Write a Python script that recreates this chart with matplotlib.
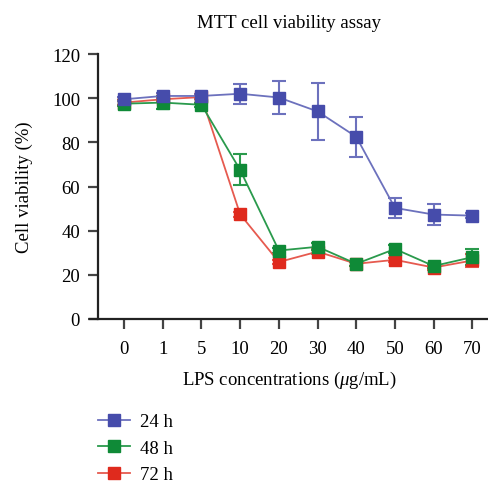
import matplotlib
matplotlib.use("Agg")
import matplotlib.pyplot as plt

plt.rcParams['font.family'] = ['Liberation Serif', 'DejaVu Serif']
plt.rcParams['mathtext.fontset'] = 'custom'
plt.rcParams['mathtext.rm'] = 'Liberation Serif'
plt.rcParams['mathtext.it'] = 'Liberation Serif:italic'

# data
concentrations = ["0", "1", "5", "10", "20", "30", "40", "50", "60", "70"]
h24 = [99.5, 101.0, 101.0, 102.0, 100.3, 94.0, 82.5, 50.3, 47.3, 46.8]
h24_err = [1.0, 1.5, 1.0, 4.5, 7.5, 13.0, 9.0, 4.5, 4.7, 1.0]
h48 = [97.5, 98.0, 97.0, 67.5, 31.0, 32.7, 25.0, 31.7, 24.0, 28.0]
h48_err = [1.0, 3.0, 1.0, 7.0, 1.0, 1.5, 1.0, 2.0, 1.0, 3.5]
h72 = [98.0, 99.5, 100.5, 47.4, 25.8, 30.5, 25.0, 26.8, 23.3, 26.5]
h72_err = [1.0, 1.0, 1.0, 1.0, 1.0, 1.0, 1.0, 1.0, 1.0, 3.0]

series = [
    ("24 h", h24, h24_err, "#464cab", "#6c71bd"),
    ("48 h", h48, h48_err, "#0f8a37", "#2a9a4c"),
    ("72 h", h72, h72_err, "#df2a1d", "#e65a4f"),
]

fs = 13.5

fig = plt.figure(figsize=(4.89, 4.85), dpi=100)
ax = fig.add_axes([90 / 489, 1 - 320 / 485, 399 / 489, 265 / 485])

x = list(range(len(concentrations)))
handles = []
for label, vals, err, mcol, lcol in reversed(series):
    ax.errorbar(x, vals, yerr=err, fmt="none", ecolor=lcol, elinewidth=1.5,
                capsize=5, capthick=1.5, clip_on=False, zorder=2)
    h, = ax.plot(x, vals, color=lcol, lw=1.3, marker="s", markersize=9,
                 markerfacecolor=mcol, markeredgecolor=mcol, label=label,
                 clip_on=False, zorder=3)
    handles.append(h)
handles = handles[::-1]

ax.set_xlim(-0.88, 9.43)
ax.set_ylim(0, 120)
ax.set_xticks(x)
ax.set_xticklabels(concentrations)
ax.set_yticks(range(0, 121, 20))

ax.spines['top'].set_visible(False)
ax.spines['right'].set_visible(False)
ax.spines['left'].set_position(('data', -0.67))
for s in ['left', 'bottom']:
    ax.spines[s].set_linewidth(1.6)
    ax.spines[s].set_color("#222222")
ax.tick_params(axis='both', direction='out', length=7, width=1.6,
               color="#444444", labelsize=fs, pad=6)
ax.tick_params(axis='x', pad=8)

ax.set_title("MTT cell viability assay", fontsize=fs, pad=19.5)
ax.set_ylabel("Cell viability (%)", fontsize=fs, labelpad=14)
ax.set_xlabel(r"LPS concentrations ($\mu$g/mL)", fontsize=fs, labelpad=9)

fig.legend(handles=handles, loc="upper left", bbox_to_anchor=(98 / 489, 1 - 414 / 485),
           frameon=False, fontsize=fs, handlelength=1.7, handletextpad=0.55,
           labelspacing=0.5, borderaxespad=0, borderpad=0)

fig.savefig("out.png", dpi=100)
